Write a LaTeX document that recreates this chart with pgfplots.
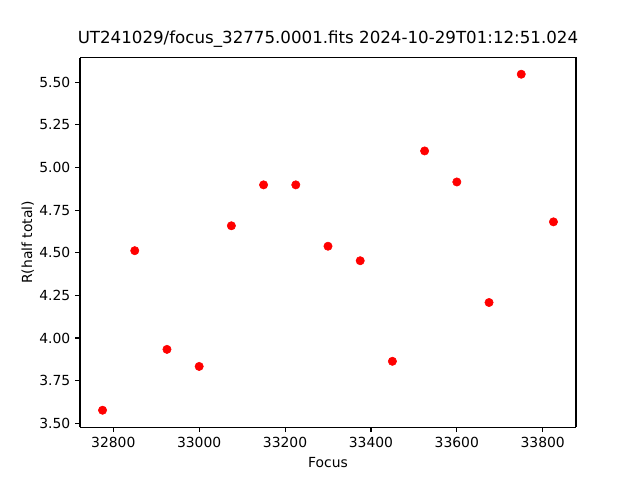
\documentclass[border=0pt]{standalone}
\usepackage{pgfplots}
\pgfplotsset{compat=1.18}
\usepackage{fontspec}
\setmainfont{DejaVu Sans}
\begin{document}
\begin{tikzpicture}
\path[use as bounding box] (-57.6pt,-38.016pt) rectangle (403.2pt,307.584pt);
\begin{axis}[
  at={(0,0)}, anchor=south west,
  scale only axis, width=357.12pt, height=266.112pt,
  xmin=32722.5, xmax=33877.5, ymin=3.4765, ymax=5.6445,
  xtick={32800,33000,33200,33400,33600,33800},
  ytick={3.50,3.75,4.00,4.25,4.50,4.75,5.00,5.25,5.50},
  axis x line*=bottom, axis y line*=left,
  every outer x axis line/.append style={-}, every outer y axis line/.append style={-},
  tick align=outside, major tick length=3.5pt,
  tick style={black, line width=0.8pt},
  axis line style={line width=0.8pt},
  /pgf/number format/assume math mode=true,
  xticklabel style={/pgf/number format/1000 sep={}, font=\fontsize{10}{12}\selectfont},
  yticklabel style={/pgf/number format/fixed, /pgf/number format/fixed zerofill, /pgf/number format/precision=2, font=\fontsize{10}{12}\selectfont},
  scaled x ticks=false,
  title={UT241029/focus\_32775.0001.fits 2024-10-29T01:12:51.024},
  title style={font=\fontsize{12}{14}\selectfont, yshift=-2pt},
  xlabel={Focus}, ylabel={R(half total)},
  label style={font=\fontsize{10}{12}\selectfont},
  ylabel style={yshift=-3pt},
  clip=false,
]
\draw[line width=0.8pt] (rel axis cs:0,1) -- (rel axis cs:1,1) -- (rel axis cs:1,0);
\addplot[only marks, mark=*, mark size=3pt, color=red, mark options={fill=red, draw=red}] coordinates {
(32775,3.576) (32850,4.512) (32925,3.933) (33000,3.833) (33075,4.658)
(33150,4.898) (33225,4.898) (33300,4.538) (33375,4.453) (33450,3.863)
(33525,5.097) (33600,4.915) (33675,4.208) (33750,5.547) (33825,4.681)
};
\end{axis}
\end{tikzpicture}
\end{document}
